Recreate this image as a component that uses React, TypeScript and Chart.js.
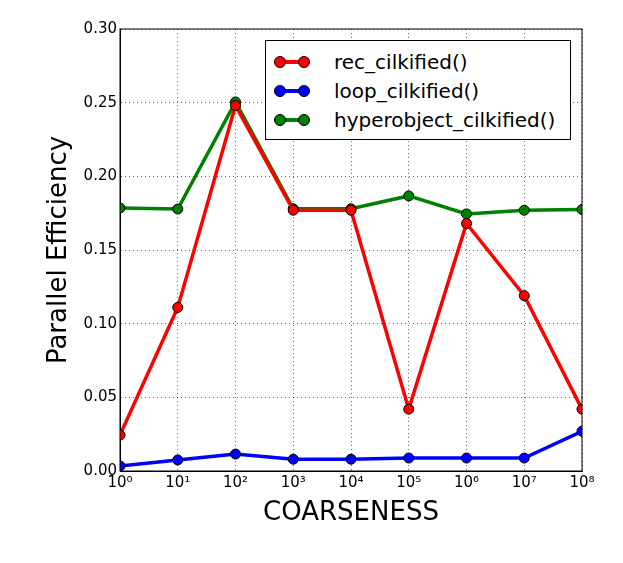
import React, { useEffect, useRef } from "react";
import Chart from "chart.js/auto";

const coarseness = [1, 10, 100, 1e3, 1e4, 1e5, 1e6, 1e7, 1e8];
const recValues = [0.0244, 0.111, 0.248, 0.177, 0.177, 0.042, 0.168, 0.119, 0.042];
const loopValues = [0.0034, 0.0075, 0.0115, 0.008, 0.008, 0.0088, 0.0088, 0.0088, 0.027];
const hyperValues = [0.1785, 0.1778, 0.2505, 0.178, 0.178, 0.1867, 0.1745, 0.177, 0.1775];
const seriesNames = ["rec_cilkified()", "loop_cilkified()", "hyperobject_cilkified()"];
const seriesColors = ["#ff0000", "#0000ff", "#008000"];
const sup = ["⁰", "¹", "²", "³", "⁴", "⁵", "⁶", "⁷", "⁸"];

export default function App() {
  const ref = useRef<HTMLCanvasElement>(null);
  useEffect(() => {
    const all = [recValues, loopValues, hyperValues];
    const chart = new Chart(ref.current!, {
      type: "line",
      data: {
        datasets: all.map((vals, i) => ({
          label: seriesNames[i],
          data: vals.map((v, j) => ({ x: coarseness[j], y: v })),
          borderColor: seriesColors[i],
          backgroundColor: seriesColors[i],
          pointBorderColor: "#000",
          pointBorderWidth: 1,
          borderWidth: 3.5,
          pointRadius: 5,
          tension: 0,
        })),
      },
      options: {
        animation: false,
        responsive: false,
        layout: { padding: { top: 29, right: 41, left: 40, bottom: 30 } },
        plugins: { legend: { display: false }, tooltip: { enabled: false } },
        scales: {
          x: {
            type: "logarithmic",
            min: 1,
            max: 1e8,
            afterBuildTicks: (s: any) => {
              s.ticks = coarseness.map((v) => ({ value: v }));
            },
            afterFit: (s: any) => { s.height = 62; },
            ticks: {
              color: "#000",
              font: { size: 15, family: "DejaVu Sans" },
              maxRotation: 0,
              callback: (v: any) => "10" + sup[Math.round(Math.log10(Number(v)))],
            },
            grid: { color: "#000", tickLength: 0, lineWidth: 0.6 },
            border: { color: "#000", width: 1, dash: [1, 3] } as any,
            title: { display: true, text: "COARSENESS", color: "#000", font: { size: 26, family: "DejaVu Sans" } },
          },
          y: {
            min: 0,
            max: 0.3,
            ticks: {
              stepSize: 0.05,
              color: "#000",
              font: { size: 15, family: "DejaVu Sans" },
              callback: (v: any) => Number(v).toFixed(2),
            },
            afterFit: (s: any) => { s.width = 80; },
            grid: { color: "#000", tickLength: 0, lineWidth: 0.6 },
            border: { color: "#000", width: 1, dash: [1, 3] } as any,
            title: { display: true, text: "Parallel Efficiency", color: "#000", font: { size: 26, family: "DejaVu Sans" } },
          },
        },
      },
      plugins: [
        {
          id: "frame",
          afterDraw(c: any) {
            const a = c.chartArea;
            const ctx = c.ctx;
            ctx.save();
            ctx.strokeStyle = "#000";
            ctx.lineWidth = 1;
            ctx.setLineDash([]);
            ctx.strokeRect(a.left, a.top, a.right - a.left, a.bottom - a.top);
            ctx.restore();
          },
        },
      ],
    });
    return () => chart.destroy();
  }, []);

  return (
    <div style={{ position: "fixed", left: 0, top: 0, width: 623, height: 563, background: "#fff" }}>
      <canvas ref={ref} width={623} height={563} />
      <div
        style={{
          position: "absolute", left: 265, top: 40, width: 306, height: 100,
          border: "1px solid #000", background: "#fff",
          fontFamily: "DejaVu Sans", fontSize: 20, boxSizing: "border-box",
          padding: "6px 0 0 8px",
        }}
      >
        {seriesNames.map((n, i) => (
          <div key={n} style={{ display: "flex", alignItems: "center", height: 29 }}>
            <div style={{ position: "relative", width: 36, height: 12, marginRight: 24 }}>
              <div style={{ position: "absolute", left: 5, right: 5, top: 4.5, height: 3.5, background: seriesColors[i] }} />
              {[0, 24].map((l) => (
                <div key={l} style={{ position: "absolute", left: l, top: 0, width: 10, height: 10, borderRadius: "50%", background: seriesColors[i], border: "1px solid #000" }} />
              ))}
            </div>
            <span>{n}</span>
          </div>
        ))}
      </div>
    </div>
  );
}
